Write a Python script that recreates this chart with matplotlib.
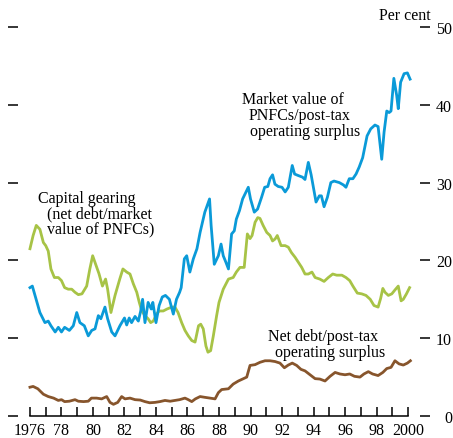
import numpy as np
import matplotlib
matplotlib.use("Agg")
import matplotlib.pyplot as plt

# Series (year, per cent)
blue_years = [1976.0, 1976.15, 1976.63, 1976.95, 1977.16, 1977.33, 1977.6, 1977.8, 1978.0, 1978.2,
              1978.5, 1978.75, 1978.97, 1979.17, 1979.45, 1979.7, 1979.92, 1980.13, 1980.34, 1980.5,
              1980.76, 1980.93, 1981.19, 1981.4, 1981.71, 1982.0, 1982.14, 1982.3, 1982.45, 1982.67,
              1982.88, 1983.03, 1983.15, 1983.3, 1983.5, 1983.7, 1983.8, 1984.0, 1984.2, 1984.4,
              1984.6, 1984.85, 1985.1, 1985.3, 1985.5, 1985.6, 1985.8, 1985.95, 1986.15, 1986.37,
              1986.6, 1986.8, 1987.1, 1987.4, 1987.5, 1987.7, 1987.96, 1988.13, 1988.27, 1988.44,
              1988.6, 1988.8, 1988.97, 1989.1, 1989.3, 1989.5, 1989.86, 1990.0, 1990.24, 1990.45,
              1990.7, 1990.9, 1991.1, 1991.24, 1991.4, 1991.55, 1991.76, 1992.0, 1992.2, 1992.4,
              1992.65, 1992.8, 1993.04, 1993.3, 1993.46, 1993.67, 1993.85, 1994.16, 1994.37, 1994.5,
              1994.67, 1994.88, 1995.1, 1995.3, 1995.64, 1995.9, 1996.06, 1996.27, 1996.5, 1996.7,
              1996.9, 1997.12, 1997.27, 1997.4, 1997.63, 1997.9, 1998.1, 1998.33, 1998.48, 1998.65,
              1998.8, 1998.92, 1999.1, 1999.28, 1999.38, 1999.53, 1999.75, 1999.96, 2000.13]
blue_vals = [16.5, 16.7, 13.3, 12.0, 12.2, 11.6, 10.8, 11.4, 10.8, 11.4,
             11.0, 11.6, 13.3, 12.0, 11.6, 10.3, 11.0, 11.2, 12.9, 12.5,
             14.0, 12.5, 10.8, 10.3, 11.6, 12.6, 11.7, 12.6, 12.0, 12.8,
             12.2, 13.5, 15.0, 12.0, 14.6, 13.75, 14.6, 12.0, 14.2, 15.3,
             15.5, 15.0, 13.1, 15.0, 15.9, 16.5, 20.2, 20.6, 18.5, 20.2,
             21.5, 23.6, 26.2, 27.9, 24.5, 19.5, 20.6, 22.1, 20.6, 19.75,
             18.9, 23.4, 23.8, 25.3, 26.4, 27.9, 29.4, 27.9, 26.2, 26.6,
             28.1, 29.4, 29.5, 30.5, 31.0, 29.8, 29.5, 29.4, 28.8, 29.4,
             32.2, 31.1, 30.9, 30.7, 30.4, 32.6, 31.0, 27.5, 28.3, 28.3,
             26.9, 28.1, 30.0, 30.2, 30.0, 29.7, 29.4, 30.5, 30.5, 31.1,
             32.0, 33.2, 34.7, 36.0, 36.9, 37.4, 37.2, 33.0, 36.5, 39.2,
             39.0, 39.2, 43.4, 41.2, 39.5, 42.9, 44.0, 44.1, 43.3]

green_years = [1976.0, 1976.2, 1976.4, 1976.63, 1976.85, 1977.0, 1977.16, 1977.33, 1977.55, 1977.8,
               1978.0, 1978.2, 1978.43, 1978.65, 1978.86, 1979.07, 1979.3, 1979.6, 1979.8, 1979.98,
               1980.17, 1980.38, 1980.6, 1980.8, 1980.93, 1981.14, 1981.4, 1981.7, 1981.9, 1982.14,
               1982.35, 1982.56, 1982.78, 1982.94, 1983.1, 1983.3, 1983.5, 1983.66, 1983.83, 1984.04,
               1984.2, 1984.46, 1984.7, 1985.0, 1985.2, 1985.4, 1985.63, 1985.84, 1986.05, 1986.27,
               1986.48, 1986.7, 1986.84, 1987.0, 1987.17, 1987.3, 1987.47, 1987.64, 1987.85, 1988.0,
               1988.27, 1988.6, 1988.9, 1989.1, 1989.33, 1989.6, 1989.8, 1989.97, 1990.1, 1990.29,
               1990.46, 1990.6, 1990.8, 1991.03, 1991.24, 1991.4, 1991.56, 1991.7, 1991.94, 1992.2,
               1992.4, 1992.6, 1992.83, 1993.04, 1993.25, 1993.46, 1993.67, 1993.9, 1994.1, 1994.4,
               1994.67, 1994.94, 1995.22, 1995.47, 1995.8, 1996.06, 1996.3, 1996.5, 1996.78, 1997.06,
               1997.33, 1997.6, 1997.84, 1998.1, 1998.26, 1998.4, 1998.54, 1998.75, 1998.97, 1999.17,
               1999.38, 1999.56, 1999.7, 1999.9, 2000.1]
green_vals = [21.5, 23.2, 24.5, 24.0, 22.3, 21.9, 21.2, 18.9, 17.8, 17.8,
              17.4, 16.5, 16.3, 16.3, 15.9, 15.6, 15.7, 16.7, 18.9, 20.6,
              19.5, 18.3, 16.7, 17.6, 16.3, 13.3, 15.5, 17.6, 18.9, 18.5,
              18.25, 17.0, 15.9, 14.6, 13.5, 12.9, 12.5, 12.0, 12.2, 13.1,
              13.5, 13.5, 13.75, 14.0, 14.0, 13.3, 12.0, 11.0, 10.3, 9.7,
              9.5, 11.6, 11.8, 11.2, 9.0, 8.2, 8.4, 10.3, 12.9, 14.6,
              16.3, 17.6, 17.8, 18.5, 19.1, 19.1, 23.4, 22.8, 23.2, 24.9,
              25.5, 25.4, 24.5, 23.6, 23.2, 22.5, 22.75, 23.2, 21.9, 21.9,
              21.7, 21.0, 20.4, 19.75, 19.1, 18.25, 18.25, 18.5, 17.8, 17.6,
              17.3, 17.8, 18.25, 18.1, 18.1, 17.8, 17.4, 16.7, 15.8, 15.7,
              15.5, 15.0, 14.2, 14.0, 15.1, 16.4, 15.9, 15.5, 15.7, 16.2,
              16.7, 14.8, 15.0, 15.7, 16.5]

brown_years = [1976.0, 1976.2, 1976.5, 1976.85, 1977.16, 1977.5, 1977.8, 1978.0, 1978.2, 1978.5,
               1978.86, 1979.07, 1979.4, 1979.7, 1979.9, 1980.23, 1980.55, 1980.87, 1981.08, 1981.3,
               1981.57, 1981.82, 1982.03, 1982.35, 1982.67, 1983.0, 1983.3, 1983.6, 1983.94, 1984.25,
               1984.57, 1984.9, 1985.2, 1985.5, 1985.84, 1986.05, 1986.27, 1986.5, 1986.8, 1987.1,
               1987.43, 1987.75, 1987.96, 1988.17, 1988.6, 1988.9, 1989.23, 1989.55, 1989.76, 1989.97,
               1990.29, 1990.6, 1990.92, 1991.24, 1991.56, 1991.87, 1992.15, 1992.4, 1992.65, 1992.93,
               1993.2, 1993.46, 1993.78, 1994.1, 1994.4, 1994.73, 1995.05, 1995.37, 1995.68, 1996.0,
               1996.3, 1996.6, 1996.95, 1997.2, 1997.48, 1997.75, 1998.1, 1998.4, 1998.65, 1998.92,
               1999.17, 1999.43, 1999.7, 1999.96, 2000.15]
brown_vals = [3.7, 3.8, 3.5, 2.8, 2.5, 2.3, 2.0, 2.1, 1.85, 1.9,
              2.1, 1.9, 1.85, 1.9, 2.3, 2.3, 2.2, 2.5, 1.75, 1.5,
              1.75, 2.5, 2.2, 2.3, 2.1, 2.05, 1.85, 1.7, 1.75, 1.85,
              2.0, 1.9, 2.0, 2.1, 2.3, 2.1, 1.85, 2.2, 2.5, 2.4,
              2.3, 2.2, 3.0, 3.4, 3.5, 4.1, 4.5, 4.8, 5.0, 6.5,
              6.6, 6.9, 7.1, 7.1, 7.0, 6.8, 6.2, 6.55, 6.8, 6.5,
              6.0, 5.8, 5.3, 4.8, 4.75, 4.5, 5.1, 5.6, 5.4, 5.3,
              5.4, 5.1, 5.0, 5.4, 5.7, 5.4, 5.2, 5.6, 6.1, 6.25,
              7.1, 6.7, 6.55, 6.8, 7.1]

year_ticks = list(range(1976, 2001))
year_labels = ["1976", "78", "80", "82", "84", "86", "88", "90", "92", "94", "96", "98", "2000"]
y_ticks = [0, 10, 20, 30, 40, 50]

BLUE = "#0a9ad8"
GREEN = "#a7c346"
BROWN = "#87552c"

plt.rcParams["font.family"] = ["Liberation Serif", "DejaVu Serif"]
fs = 11.5

fig = plt.figure(figsize=(4.53, 4.39), dpi=100)
ax = fig.add_axes([18 / 453, 22 / 439, 402 / 453, 389 / 439])

ax.plot(green_years, green_vals, color=GREEN, lw=2.0, solid_joinstyle="round")
ax.plot(blue_years, blue_vals, color=BLUE, lw=2.0, solid_joinstyle="round")
ax.plot(brown_years, brown_vals, color=BROWN, lw=2.0, solid_joinstyle="round")

ax.set_xlim(1975.24, 2000.76)
ax.set_ylim(0, 50)

for s in ["top", "left", "right"]:
    ax.spines[s].set_visible(False)
ax.spines["bottom"].set_bounds(1976, 2000)
ax.spines["bottom"].set_linewidth(1.1)

# x axis: a tick every year pointing up, labels every other year
ax.set_xticks(year_ticks)
lab = []
i = 0
for y in year_ticks:
    if y % 2 == 0:
        lab.append(year_labels[i])
        i += 1
    else:
        lab.append("")
ax.set_xticklabels(lab, fontsize=fs)
ax.tick_params(axis="x", direction="in", length=6.5, width=1.1, pad=4)

# y axis: dashes on both sides, labels on the right only
ax.set_yticks(y_ticks)
ax.tick_params(axis="y", left=True, right=True, labelleft=False, labelright=True,
               direction="out", length=7.5, width=1.1, pad=15.5, labelsize=fs)
for t in ax.yaxis.get_major_ticks():
    t.label2.set_horizontalalignment("right")

ax.text(2001.46, 51.5, "Per cent", ha="right", va="center", fontsize=fs)

ax.text(1976.51, 28.0, "Capital gearing", ha="left", va="center", fontsize=fs)
ax.text(1977.08, 26.1, "(net debt/market", ha="left", va="center", fontsize=fs)
ax.text(1977.08, 24.1, "value of PNFCs)", ha="left", va="center", fontsize=fs)

ax.text(1989.46, 40.75, "Market value of", ha="left", va="center", fontsize=fs)
ax.text(1989.9, 38.7, "PNFCs/post-tax", ha="left", va="center", fontsize=fs)
ax.text(1989.97, 36.6, "operating surplus", ha="left", va="center", fontsize=fs)

ax.text(1991.09, 10.3, "Net debt/post-tax", ha="left", va="center", fontsize=fs)
ax.text(1991.56, 8.2, "operating surplus", ha="left", va="center", fontsize=fs)

fig.savefig("out.png", dpi=100)
